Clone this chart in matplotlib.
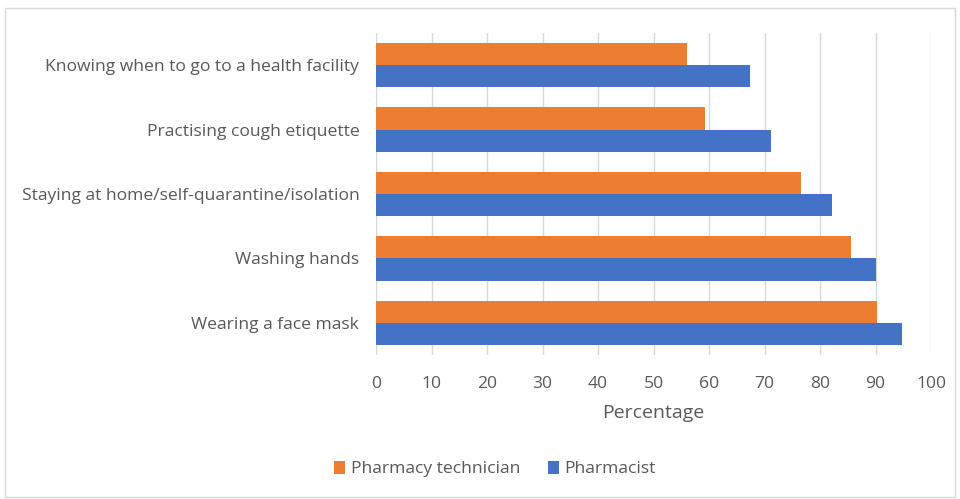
import matplotlib
matplotlib.use("Agg")
import matplotlib.pyplot as plt
from matplotlib.patches import Rectangle
import numpy as np

categories = ["Knowing when to go to a health facility",
              "Practising cough etiquette",
              "Staying at home/self-quarantine/isolation",
              "Washing hands",
              "Wearing a face mask"]
technician = [56.1, 59.3, 76.5, 85.5, 90.3]
pharmacist = [67.3, 71.1, 82.1, 90.1, 94.7]
series_names = ["Pharmacy technician", "Pharmacist"]
xticks = [0, 10, 20, 30, 40, 50, 60, 70, 80, 90, 100]

plt.rcParams['font.family'] = ['Open Sans', 'DejaVu Sans']
txt = '#595959'
fig = plt.figure(figsize=(9.6, 4.99), dpi=100)
fig.patches.append(Rectangle((0.005, 0.004), 0.99, 0.98, transform=fig.transFigure,
                             fill=False, edgecolor='#D9D9D9', linewidth=1))
ax = fig.add_axes([376/960, 1-355/499, (931-376)/960, (355-33)/499])
y = np.arange(len(categories))
h = 0.345
ax.barh(y - h/2, technician, height=h, color='#ED7D31', label=series_names[0], zorder=3)
ax.barh(y + h/2, pharmacist, height=h, color='#4472C4', label=series_names[1], zorder=3)
ax.set_ylim(4.5, -0.5)
ax.set_xlim(0, 100)
ax.set_yticks(y)
ax.set_yticklabels(categories, fontsize=12.6, color=txt)
ax.set_xticks(xticks)
ax.set_xticklabels([str(t) for t in xticks], fontsize=12.6, color=txt)
ax.tick_params(axis='x', length=0, pad=15)
ax.tick_params(axis='y', length=0, pad=12)
ax.grid(axis='x', color='#D9D9D9', linewidth=1, zorder=0)
for s in ax.spines.values():
    s.set_visible(False)
ax.set_xlabel("Percentage", fontsize=14, color=txt, labelpad=9)
handles, labels = ax.get_legend_handles_labels()
fig.legend(handles, labels, loc='center', bbox_to_anchor=(495/960, 1-469/499), ncol=2,
           frameon=False, fontsize=12.6, labelcolor=txt, handlelength=0.65, handleheight=0.75,
           columnspacing=1.6, handletextpad=0.3)
fig.savefig("out.png", dpi=100)
